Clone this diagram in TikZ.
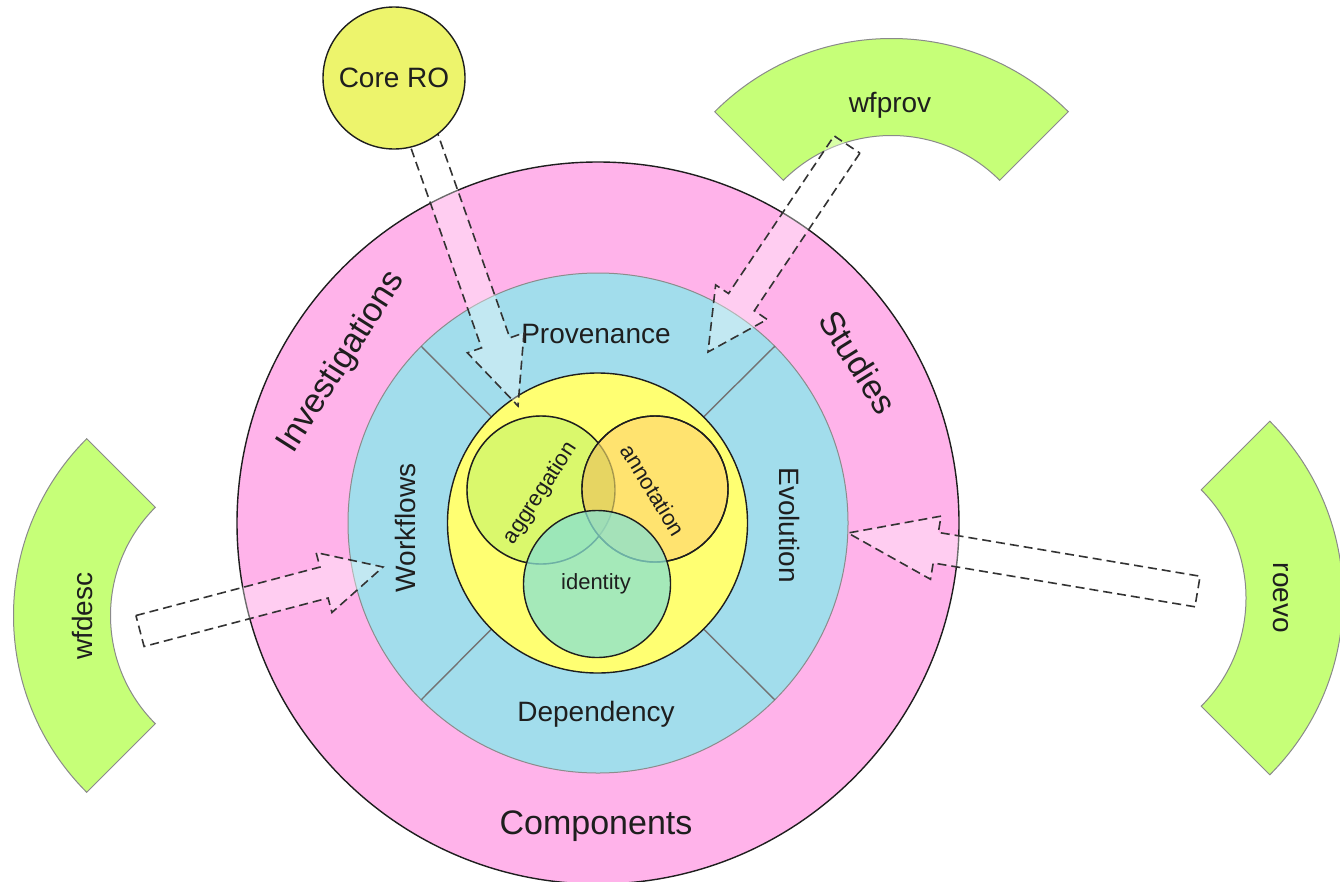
\documentclass[tikz,border=0pt]{standalone}
\usepackage{fontspec}
\setmainfont{Liberation Sans}
\usetikzlibrary{calc}
\definecolor{pinkc}{HTML}{FFB3EA}
\definecolor{bluec}{HTML}{A2DDEC}
\definecolor{yelc}{HTML}{FFFF72}
\definecolor{corec}{HTML}{EDF46C}
\definecolor{greenc}{HTML}{C6FF78}
\definecolor{aggc}{HTML}{DAF86C}
\definecolor{annc}{HTML}{FFE36F}
\definecolor{idc}{HTML}{88E2D2}
\definecolor{lensc}{HTML}{E6D562}
\definecolor{inkc}{HTML}{1E1E1E}
\definecolor{edgec}{HTML}{8A8A8A}

\newcommand{\myblockarrow}[5]{%
  \coordinate (hb) at ($(#2)!#5!(#1)$);
  \draw[barrow] ($(#1)!#3!90:(#2)$) -- ($(hb)!#3!90:(#2)$) -- ($(hb)!#4!90:(#2)$) -- (#2)
     -- ($(hb)!#4!-90:(#2)$) -- ($(hb)!#3!-90:(#2)$) -- ($(#1)!#3!-90:(#2)$) -- cycle;}

\newcommand{\mysector}[2]{%
  \fill[sectorfill] (#1) ++(#2:250) arc[start angle=#2, end angle=#2+90, radius=250]
     -- ($(#1)+(#2+90:153)$) arc[start angle=#2+90, end angle=#2, radius=153] -- cycle;}

\tikzset{
  sectorfill/.style={fill=greenc, draw=edgec, line width=1pt},
  barrow/.style={draw=black!80, line width=1.6pt, dash pattern=on 9pt off 5pt,
                 fill=white, fill opacity=0.35},
  ring/.style={circle, inner sep=0pt, outer sep=0pt},
  venn/.style={circle, inner sep=0pt, outer sep=0pt, draw=inkc, line width=1.4pt},
  divider/.style={draw=black!55, line width=1.4pt},
  vennline/.style={draw=inkc, line width=1.4pt},
  lbl/.style={text=inkc, inner sep=0pt},
  big/.style={lbl, font=\fontsize{34pt}{36pt}\selectfont},
  mid/.style={lbl, font=\fontsize{28pt}{30pt}\selectfont},
  small/.style={lbl, font=\fontsize{22pt}{24pt}\selectfont}
}

\begin{document}
\begin{tikzpicture}[x=1pt, y=-1pt]
\useasboundingbox (0,0) rectangle (1340,881);
\clip (0,0) rectangle (1340,881);
\fill[white] (0,0) rectangle (1340,881);

% green ring segments
\coordinate (descC) at (263.5,615.5);
\coordinate (provC) at (891.5,288.5);
\coordinate (evoC) at (1093,598);
\mysector{descC}{135}
\mysector{provC}{225}
\mysector{evoC}{-45}
\node[mid, rotate=90] (wfdesc) at (82,616) {wfdesc};
\node[mid] (wfprov) at (890,105) {wfprov};
\node[mid, rotate=-90] (roevo) at (1281,598) {roevo};

% rings
\node[ring, fill=pinkc, draw=inkc, line width=1.4pt, minimum size=722pt] (comp) at (598,523) {};
\node[ring, fill=bluec, draw=black!45, line width=1pt, minimum size=500pt] (blue) at (598,523) {};
\node[ring, minimum size=300pt] (yelb) at (597.5,523) {};
\foreach \a in {45,135,225,315} \draw[divider] (blue.\a) -- (yelb.\a);
\node[ring, fill=yelc, draw=inkc, line width=1.4pt, minimum size=300pt] (yel) at (597.5,523) {};

% venn
\node[venn, fill=aggc, minimum size=148pt] (agg) at (541,490) {};
\node[venn, fill=annc, minimum size=146pt] (ann) at (655,489) {};
\begin{scope}
  \clip (541,490) circle[radius=74];
  \fill[lensc] (655,489) circle[radius=73];
\end{scope}
\draw[vennline, draw opacity=0.35] (agg.center) circle[radius=74];
\draw[vennline] (ann.center) circle[radius=73];
\node[venn, fill=idc, fill opacity=0.75, minimum size=147pt] (ident) at (597,584) {};

% labels
\node[small, rotate=57] (aggl) at (540.7,493.3) {aggregation};
\node[small, rotate=-58.6] (annl) at (653.3,490) {annotation};
\node[small] (idl) at (596,584) {identity};
\node[mid] (prov) at (596,334) {Provenance};
\node[mid] (dep) at (596,714) {Dependency};
\node[mid, rotate=90] (wf) at (405,528) {Workflows};
\node[mid, rotate=-90] (evo) at (789,525) {Evolution};
\node[big] (compl) at (596,826) {Components};
\node[big, rotate=57.6] (inv) at (341.7,362.3) {Investigations};
\node[big, rotate=-58] (stud) at (858.3,362.3) {Studies};

% block arrows
\coordinate (coreTail) at (421.4,132.5);
\coordinate (coreTip) at (518,406);
\coordinate (provTail) at (847,144.5);
\coordinate (provTip) at (708,352);
\coordinate (descTail) at (140,631);
\coordinate (descTip) at (383,567);
\coordinate (evoTail) at (1197.5,591.5);
\coordinate (evoTip) at (848,533);
\myblockarrow{coreTail}{coreTip}{15pt}{30pt}{67pt}
\myblockarrow{provTail}{provTip}{15.5pt}{31pt}{60pt}
\myblockarrow{descTail}{descTip}{16pt}{31pt}{61pt}
\myblockarrow{evoTail}{evoTip}{15.5pt}{32pt}{89pt}

% Core RO
\node[venn, fill=corec, minimum size=142pt, mid] (core) at (394,78) {Core RO};
\end{tikzpicture}
\end{document}
